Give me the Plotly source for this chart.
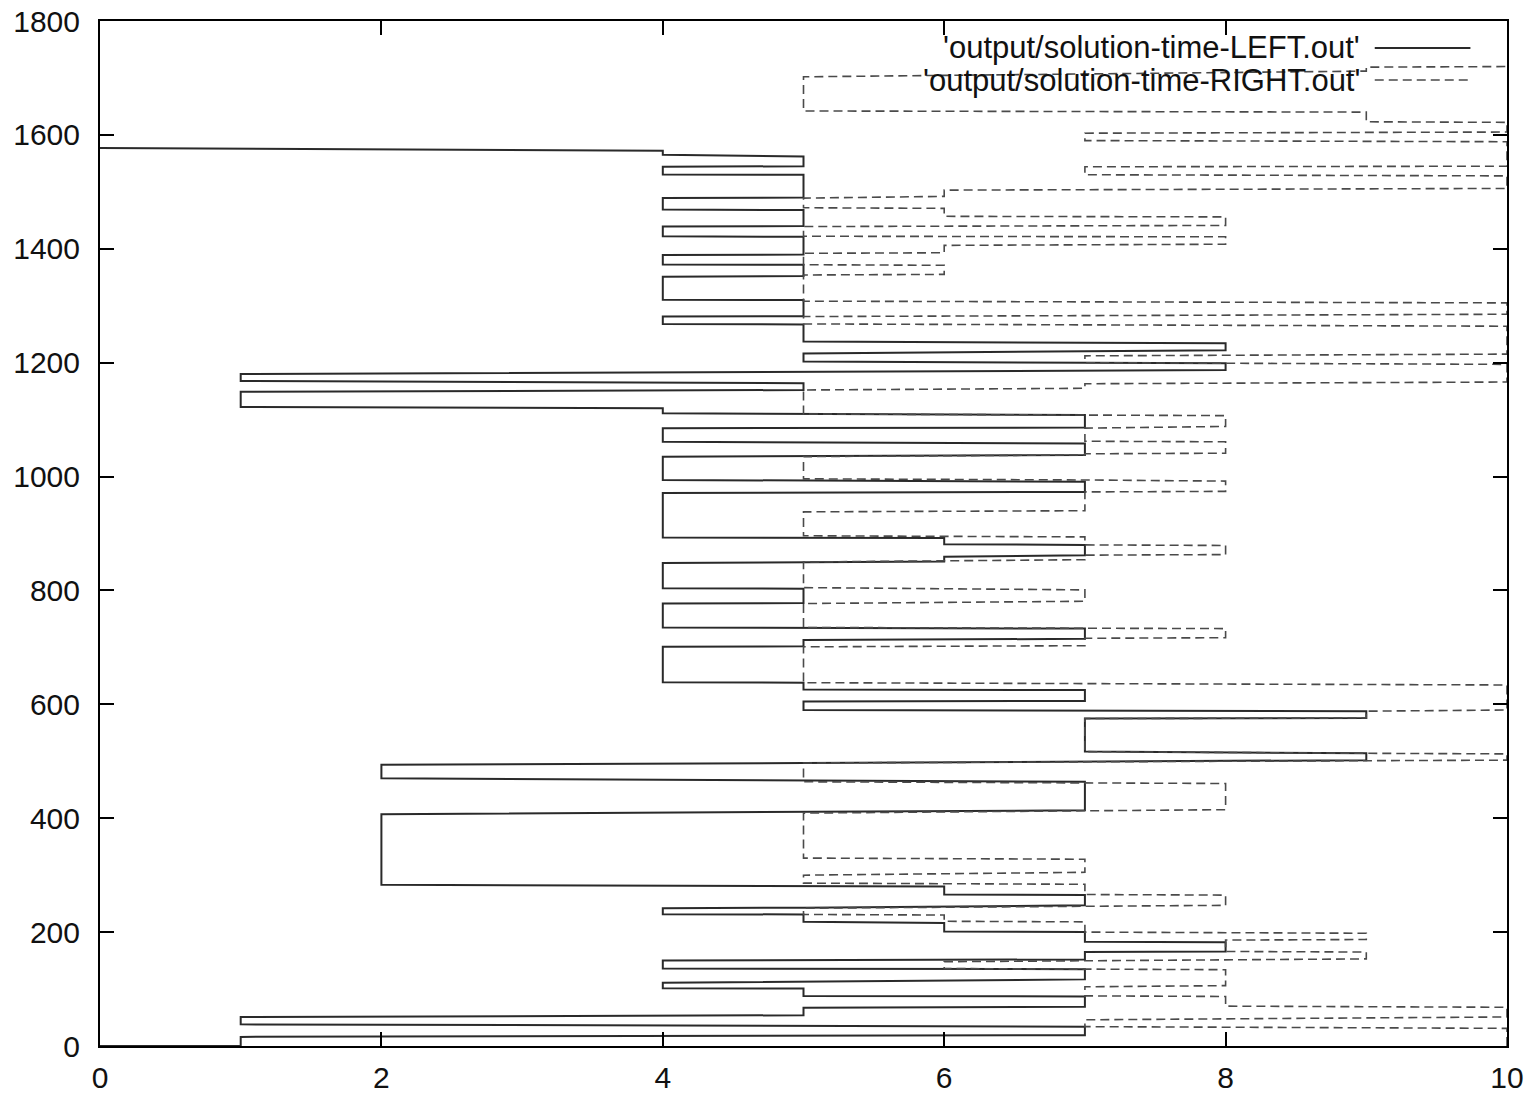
import plotly.graph_objects as go

# LEFT series (solid): path vertices (x = level, y = time)
left_x = [0, 1, 1, 7, 7, 1, 1, 5, 5, 7, 7, 5, 5, 4, 4, 7, 7, 4, 4, 7, 7, 8, 8, 7, 7, 6, 6, 5, 5, 4,
          4, 5, 7, 7, 6, 6, 2, 2, 7, 7, 2, 2, 5, 9, 9, 7, 7, 9, 9, 5, 5, 7, 7, 5, 5, 4, 4, 5, 5, 7,
          7, 4, 4, 5, 5, 4, 4, 6, 6, 7, 7, 6, 6, 4, 4, 7, 7, 4, 4, 7, 7, 4, 4, 7, 7, 4, 4, 1, 1, 5,
          5, 1, 1, 8, 8, 5, 5, 8, 8, 5, 5, 4, 4, 5, 5, 4, 4, 5, 5, 4, 4, 5, 5, 4, 4, 5, 5, 4, 4, 5,
          5, 4, 4, 5, 5, 4, 4, 0]
left_y = [0, 0, 16, 19, 34, 38, 51, 54, 67, 69, 87, 88, 101, 101.5, 111, 117, 135, 136, 150, 152,
          165, 166, 182, 183, 200, 201, 216, 218, 231, 231.5, 242, 243, 247, 265, 266, 280, 283, 407,
          414, 464, 470, 494, 497, 502, 514, 517, 575, 576, 588, 590, 605, 606, 625, 626, 638, 639,
          701, 702, 713, 715, 733, 735, 777, 778, 803, 804, 848, 851, 859, 862, 880, 881, 892, 893,
          971, 973, 991, 994, 1035, 1038, 1058, 1061, 1085, 1086, 1108, 1111, 1120, 1122, 1149, 1152,
          1164, 1168, 1180, 1187, 1199, 1202, 1216, 1222, 1234, 1237, 1267, 1268, 1281, 1281.5, 1310,
          1310.5, 1351, 1352, 1372, 1372.5, 1389, 1390, 1421, 1422, 1439, 1440, 1468, 1469, 1489,
          1490, 1530, 1530.5, 1544, 1545, 1562, 1565, 1572, 1577]

# RIGHT series (dashed): path vertices
right_x = [10, 10, 7, 7, 10, 10, 8, 8, 7, 7, 8, 8, 6, 6, 9, 9, 8, 8, 9, 9, 7, 7, 6, 6, 5, 5, 8, 8,
           7, 7, 5, 5, 7, 7, 5, 5, 8, 8, 5, 5, 10, 10, 9, 7, 7, 9, 9, 10, 10, 5, 5, 7, 7, 8, 8, 7,
           5, 5, 7, 7, 5, 5, 7, 7, 8, 8, 7, 7, 5, 5, 7, 7, 8, 8, 7, 5, 5, 7, 7, 8, 8, 7, 7, 8, 8,
           7, 5, 5, 7, 7, 10, 10, 7, 7, 10, 10, 5, 5, 10, 10, 5, 5, 6, 6, 5, 5, 6, 6, 8, 8, 5, 5,
           8, 8, 6, 6, 5, 5, 6, 6, 10, 10, 7, 7, 10, 10, 7, 7, 10, 10, 9, 9, 5, 5, 9, 9, 10]
right_y = [0, 31, 34, 46, 51, 68, 70, 87, 88, 104, 106, 134, 136, 148, 153, 165, 166, 186, 187, 198,
           200, 218, 219, 230, 231, 242, 247, 265, 266, 284, 286, 300, 305, 328, 330, 409, 415, 461,
           464, 497, 502, 513, 514, 517, 575, 576, 588, 590, 634, 638, 701, 703, 716, 717, 733, 734,
           735, 777, 781, 801, 805, 850, 854, 862, 863, 879, 880, 894, 896, 938, 940, 973, 974, 992,
           994, 996, 1035, 1038, 1040, 1041, 1061, 1062, 1085, 1088, 1107, 1108, 1110, 1152, 1155,
           1163, 1166, 1197, 1200, 1212, 1215, 1264, 1268, 1281, 1285, 1305, 1308, 1354, 1355, 1371,
           1372, 1392, 1393, 1406, 1408, 1421, 1422, 1439, 1441, 1456, 1457, 1471, 1472, 1489, 1492,
           1503, 1506, 1528, 1530, 1544, 1545, 1588, 1590, 1603, 1605, 1622, 1623, 1640, 1642, 1702,
           1712, 1719, 1720]

series_names = ["'output/solution-time-LEFT.out'", "'output/solution-time-RIGHT.out'"]
x_ticks = [0, 2, 4, 6, 8, 10]
y_ticks = [0, 200, 400, 600, 800, 1000, 1200, 1400, 1600, 1800]

FONT = "Liberation Sans, Arial, sans-serif"

fig = go.Figure()
fig.add_trace(go.Scatter(x=left_x, y=left_y, mode="lines", name=series_names[0],
                         line=dict(color="#2a2a2a", width=2), showlegend=False))
fig.add_trace(go.Scatter(x=right_x, y=right_y, mode="lines", name=series_names[1],
                         line=dict(color="#4a4a4a", width=1.6, dash="9px,5px"), showlegend=False))

# gnuplot-style key: right-aligned text followed by sample line
key_rows = [(0.9737, "solid", "#2a2a2a", 2), (0.9424, "9px,5px", "#4a4a4a", 1.6)]
for name, (yp, dash, col, w) in zip(series_names, key_rows):
    fig.add_annotation(x=0.897, y=yp, xref="paper", yref="paper", text=name, showarrow=False,
                       xanchor="right", yanchor="middle",
                       font=dict(family=FONT, size=31, color="#111"))
    fig.add_shape(type="line", xref="paper", yref="paper", x0=0.906, x1=0.974, y0=yp, y1=yp,
                  line=dict(color=col, width=w, dash=dash))

axis_common = dict(showline=True, linecolor="black", linewidth=2, mirror="ticks",
                   ticks="inside", ticklen=14, tickwidth=1.5, tickcolor="black",
                   showgrid=False, zeroline=False, automargin=False,
                   ticklabeloverflow="allow",
                   tickfont=dict(family=FONT, size=30, color="#111"))
fig.update_xaxes(range=[0, 10], tickvals=x_ticks, ticktext=[str(v) for v in x_ticks],
                 ticklabelstandoff=4, **axis_common)
fig.update_yaxes(range=[0, 1800], tickvals=y_ticks, ticktext=[str(v) for v in y_ticks],
                 ticklabelstandoff=12, **axis_common)

fig.update_layout(width=1537, height=1094, margin=dict(l=100, r=30, t=21, b=48, autoexpand=False),
                  paper_bgcolor="white", plot_bgcolor="white", showlegend=False)

# remove the browser's default 8px body margin so the figure sits at the page origin
fig.write_html("out.html", config={"displayModeBar": False},
               post_script="document.body.style.margin='0';document.body.style.overflow='hidden';")
